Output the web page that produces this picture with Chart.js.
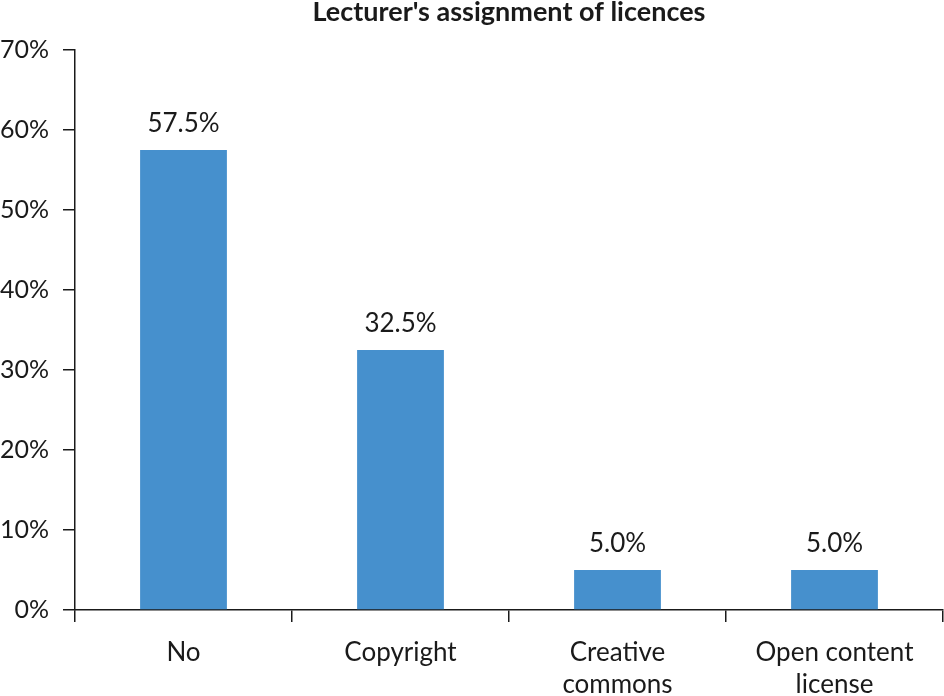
<!DOCTYPE html>
<html>
<head>
<meta charset="utf-8">
<script src="https://cdn.jsdelivr.net/npm/chart.js@4"></script>
<style>
  html, body { margin: 0; padding: 0; background: #fff; }
  #chart { display: block; }
</style>
</head>
<body>
<canvas id="chart" width="944" height="696"></canvas>
<script>
const categories = ["No", "Copyright", ["Creative", "commons"], ["Open content", "license"]];
const shares = [57.5, 32.5, 5.0, 5.0];
const yTicks = [0, 10, 20, 30, 40, 50, 60, 70];
const chartTitle = "Lecturer's assignment of licences";

const FONT = "Lato, 'Open Sans', sans-serif";
const INK = "#1a1a1a";

// title centred over the plot area, value labels above each bar
const barLabels = {
  id: "barLabels",
  afterDraw(chart) {
    const ctx = chart.ctx;
    const area = chart.chartArea;
    const meta = chart.getDatasetMeta(0);
    ctx.save();
    ctx.fillStyle = INK;
    ctx.textAlign = "center";
    ctx.textBaseline = "alphabetic";

    ctx.font = "bold 27px " + FONT;
    ctx.fillText(chartTitle, (area.left + area.right) / 2, 21);

    ctx.font = "26px " + FONT;
    meta.data.forEach((bar, i) => {
      ctx.fillText(shares[i].toFixed(1) + "%", bar.x, bar.y - 18);
    });
    ctx.restore();
  },
};

new Chart(document.getElementById("chart"), {
  type: "bar",
  data: {
    labels: categories,
    datasets: [
      {
        data: shares,
        backgroundColor: "#4690cd",
        barPercentage: 0.4,
        categoryPercentage: 1,
      },
    ],
  },
  options: {
    responsive: false,
    animation: false,
    layout: { padding: { left: 0, right: 1, top: 50, bottom: 0 } },
    plugins: {
      legend: { display: false },
      tooltip: { enabled: false },
      title: { display: false },
    },
    scales: {
      x: {
        grid: {
          offset: true,
          drawOnChartArea: false,
          drawTicks: true,
          tickLength: 12,
          color: "#1a1a1a",
          lineWidth: 1.5,
        },
        border: { display: true, color: "#1a1a1a", width: 1.5 },
        ticks: {
          color: INK,
          font: { family: FONT, size: 26, lineHeight: 1.24 },
          padding: 14,
          maxRotation: 0,
          autoSkip: false,
        },
        afterFit(scale) { scale.height = 86; },
      },
      y: {
        min: 0,
        max: 70,
        afterBuildTicks(scale) { scale.ticks = yTicks.map(v => ({ value: v })); },
        grid: {
          drawOnChartArea: false,
          drawTicks: true,
          tickLength: 12,
          color: "#1a1a1a",
          lineWidth: 1.5,
        },
        border: { display: true, color: "#1a1a1a", width: 1.5 },
        ticks: {
          color: INK,
          font: { family: FONT, size: 25 },
          padding: 14,
          callback: v => v + "%",
        },
        afterFit(scale) { scale.width = 75; },
      },
    },
  },
  plugins: [barLabels],
});
</script>
</body>
</html>
